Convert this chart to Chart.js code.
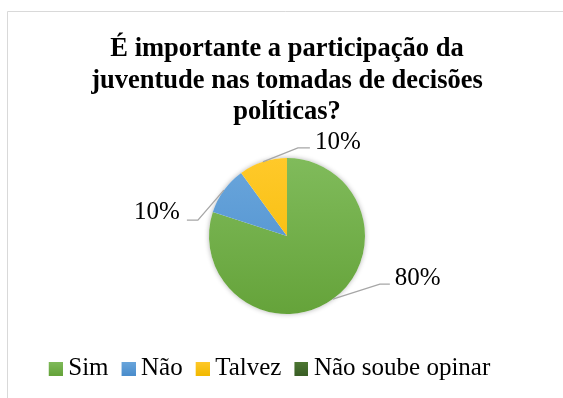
<!DOCTYPE html>
<html lang="pt">
<head>
<meta charset="utf-8">
<script src="https://cdn.jsdelivr.net/npm/chart.js@4.4.1/dist/chart.umd.min.js"></script>
<style>
  html, body { margin: 0; padding: 0; background: #fff; }
  #wrap { width: 563px; height: 398px; }
</style>
</head>
<body>
<div id="wrap"><canvas id="pieChart" width="563" height="398"></canvas></div>
<script>
const categories = ["Sim", "Não", "Talvez", "Não soube opinar"];
const percentages = [80, 10, 10, 0];
const titleLines = ["É importante a participação da", "juventude nas tomadas de decisões", "políticas?"];

// light / dark shade of each slice (Excel style gradient)
const lightColors = ["#80bb5b", "#6aa6dc", "#ffc92a", "#4e7833"];
const darkColors = ["#65a33a", "#4a8dcc", "#f2b900", "#3a5e25"];

const serif = "'Liberation Serif', 'Times New Roman', serif";

// where the leader line bends and where its text goes, per slice
const leaders = [
  { elbow: [47, -15], run: 10, gap: 5, lift: -6 },
  { elbow: [-26, 30], run: -11, gap: 7, lift: -8 },
  { elbow: [35, -14], run: 12, gap: 5, lift: -5 }
];

function sliceGradient(ctx, i, top, bottom) {
  const g = ctx.createLinearGradient(0, top, 0, bottom);
  g.addColorStop(0, lightColors[i]);
  g.addColorStop(1, darkColors[i]);
  return g;
}

// legend swatch, with a little empty room on its left so the text sits close
function makeSwatch(i) {
  const c = document.createElement("canvas");
  c.width = 16;
  c.height = 14;
  const cx = c.getContext("2d");
  cx.fillStyle = sliceGradient(cx, i, 0, 14);
  cx.fillRect(2, 0, 14, 14);
  return c;
}

const frame = {
  id: "frame",
  beforeDraw(chart) {
    const ctx = chart.ctx;
    ctx.save();
    ctx.fillStyle = "#fff";
    ctx.fillRect(0, 0, chart.width, chart.height);
    ctx.strokeStyle = "#d9d9d9";
    ctx.lineWidth = 1;
    ctx.beginPath();
    ctx.moveTo(7.5, chart.height);
    ctx.lineTo(7.5, 11.5);
    ctx.lineTo(chart.width, 11.5);
    ctx.stroke();
    ctx.restore();
  },
  afterLayout(chart) {
    // Excel puts the legend a bit left of the plot centre
    chart.legend.left -= 15;
    chart.legend.right -= 15;
  },
  beforeDatasetsDraw(chart) {
    const arc = chart.getDatasetMeta(0).data[0];
    if (!arc) return;
    const { x, y, outerRadius } = arc.getProps(["x", "y", "outerRadius"], true);
    const ctx = chart.ctx;
    ctx.save();
    ctx.shadowColor = "rgba(0,0,0,0.3)";
    ctx.shadowBlur = 5;
    ctx.fillStyle = "#fff";
    ctx.beginPath();
    ctx.arc(x, y, outerRadius, 0, Math.PI * 2);
    ctx.fill();
    ctx.restore();
  }
};

const leaderLabels = {
  id: "leaderLabels",
  afterDatasetsDraw(chart) {
    const ctx = chart.ctx;
    const meta = chart.getDatasetMeta(0);
    ctx.save();
    ctx.font = "25px " + serif;
    ctx.textBaseline = "middle";
    meta.data.forEach((arc, i) => {
      if (!percentages[i] || !leaders[i]) return;
      const p = arc.getProps(["x", "y", "startAngle", "endAngle", "outerRadius"], true);
      const mid = (p.startAngle + p.endAngle) / 2;
      const ex = p.x + Math.cos(mid) * p.outerRadius;
      const ey = p.y + Math.sin(mid) * p.outerRadius;
      const L = leaders[i];
      const bx = ex + L.elbow[0];
      const by = ey + L.elbow[1];
      const hx = bx + L.run;

      ctx.strokeStyle = "#a6a6a6";
      ctx.lineWidth = 1.3;
      ctx.beginPath();
      ctx.moveTo(ex, ey);
      ctx.lineTo(bx, by);
      ctx.lineTo(hx, by);
      ctx.stroke();

      ctx.fillStyle = "#000";
      const right = L.run > 0;
      ctx.textAlign = right ? "left" : "right";
      ctx.fillText(percentages[i] + "%", right ? hx + L.gap : hx - L.gap, by + L.lift);
    });
    ctx.restore();
  }
};

const ctx = document.getElementById("pieChart").getContext("2d");

new Chart(ctx, {
  type: "pie",
  data: {
    labels: categories,
    datasets: [{
      data: percentages,
      borderWidth: 0,
      backgroundColor: (c) => {
        const area = c.chart.chartArea;
        if (!area) return darkColors[c.dataIndex];
        const cy = (area.top + area.bottom) / 2;
        return sliceGradient(c.chart.ctx, c.dataIndex, cy - 78, cy + 78);
      }
    }]
  },
  options: {
    responsive: false,
    animation: false,
    devicePixelRatio: 1,
    radius: 78,
    layout: { padding: { left: 11, right: 0, top: 0, bottom: 7 } },
    plugins: {
      title: {
        display: true,
        text: titleLines,
        color: "#000",
        font: { family: serif, size: 26.5, weight: "bold", lineHeight: 1.2 },
        padding: { top: 33, bottom: 5.6 }
      },
      legend: {
        position: "bottom",
        labels: {
          usePointStyle: true,
          pointStyleWidth: 2,
          boxHeight: 14,
          padding: 18,
          color: "#000",
          font: { family: serif, size: 25 },
          generateLabels: () => categories.map((label, i) => ({
            text: label,
            fillStyle: darkColors[i],
            strokeStyle: darkColors[i],
            lineWidth: 0,
            pointStyle: makeSwatch(i),
            hidden: false,
            index: i
          }))
        }
      },
      tooltip: { enabled: false }
    }
  },
  plugins: [frame, leaderLabels]
});
</script>
</body>
</html>
